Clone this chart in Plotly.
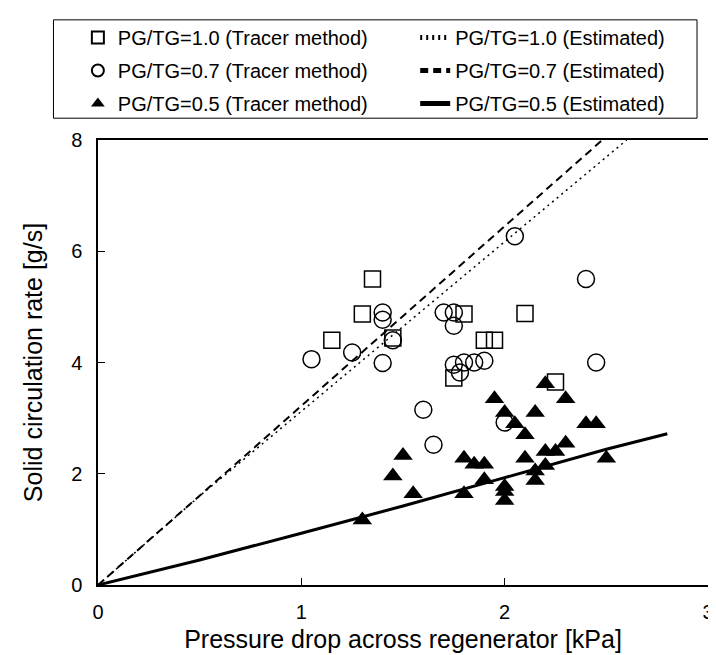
import plotly.graph_objects as go

# tracer method measurements, PG/TG = 1.0 (squares)
x_pg10 = [1.15, 1.30, 1.35, 1.45, 1.75, 1.80, 1.90, 1.95, 2.10, 2.25]
y_pg10 = [4.40, 4.87, 5.50, 4.44, 3.72, 4.87, 4.40, 4.40, 4.88, 3.65]

# PG/TG = 0.7 (circles)
x_pg07 = [1.05, 1.25, 1.40, 1.40, 1.45, 1.40, 1.60, 1.65, 1.70, 1.75,
          1.75, 1.75, 1.78, 1.80, 1.85, 1.90, 2.00, 2.05, 2.40, 2.45]
y_pg07 = [4.06, 4.18, 4.90, 4.77, 4.40, 3.99, 3.15, 2.52, 4.90, 4.90,
          4.66, 3.96, 3.82, 4.00, 4.00, 4.03, 2.92, 6.27, 5.50, 4.00]

# PG/TG = 0.5 (filled triangles)
x_pg05 = [1.30, 1.45, 1.50, 1.55, 1.80, 1.80, 1.85, 1.90, 1.90, 1.95,
          2.00, 2.00, 2.00, 2.00, 2.05, 2.10, 2.10, 2.15, 2.15, 2.15,
          2.20, 2.20, 2.20, 2.25, 2.30, 2.30, 2.40, 2.45, 2.50]
y_pg05 = [1.17, 1.96, 2.33, 1.64, 2.28, 1.64, 2.17, 2.17, 1.89, 3.35,
          3.10, 1.77, 1.68, 1.52, 2.90, 2.70, 2.28, 3.10, 2.05, 1.88,
          3.62, 2.40, 2.15, 2.40, 3.35, 2.55, 2.90, 2.90, 2.28]

# estimated curves
est_x10 = [0, 0.25, 0.5, 0.75, 1.0, 1.25, 1.5, 1.75, 2.0, 2.25, 2.6]
est_y10 = [0, 0.80, 1.60, 2.36, 3.12, 3.88, 4.64, 5.40, 6.16, 6.93, 8.0]
est_x07 = [0, 0.25, 0.5, 0.75, 1.0, 1.25, 1.5, 1.75, 2.0, 2.25, 2.48]
est_y07 = [0, 0.80, 1.60, 2.41, 3.22, 4.03, 4.84, 5.64, 6.45, 7.26, 8.0]
est_x05 = [0, 0.5, 1.0, 1.5, 2.0, 2.5, 2.8]
est_y05 = [0, 0.45, 0.93, 1.42, 1.93, 2.44, 2.72]

FONT = 'Liberation Sans, Arial, sans-serif'

fig = go.Figure()

fig.add_trace(go.Scatter(
    x=x_pg10, y=y_pg10, mode='markers', name='PG/TG=1.0 (Tracer method)',
    marker=dict(symbol='square-open', size=16, color='black', line=dict(width=1.5)),
    legend='legend', legendgroup='a'))
fig.add_trace(go.Scatter(
    x=x_pg07, y=y_pg07, mode='markers', name='PG/TG=0.7 (Tracer method)',
    marker=dict(symbol='circle-open', size=17, color='black', line=dict(width=1.5)),
    legend='legend', legendgroup='b'))
fig.add_trace(go.Scatter(
    x=x_pg05, y=y_pg05, mode='markers', name='PG/TG=0.5 (Tracer method)',
    marker=dict(symbol='triangle-up', size=17, color='black'),
    legend='legend', legendgroup='c'))

fig.add_trace(go.Scatter(
    x=est_x10, y=est_y10, mode='lines', name='PG/TG=1.0 (Estimated)',
    line=dict(color='black', width=1.5, dash='2px,4px'),
    legend='legend2', legendgroup='d'))
fig.add_trace(go.Scatter(
    x=est_x07, y=est_y07, mode='lines', name='PG/TG=0.7 (Estimated)',
    line=dict(color='black', width=2, dash='8px,5px'),
    legend='legend2', legendgroup='e'))
fig.add_trace(go.Scatter(
    x=est_x05, y=est_y05, mode='lines', name='PG/TG=0.5 (Estimated)',
    line=dict(color='black', width=3),
    legend='legend2', legendgroup='f'))

leg = dict(orientation='v', traceorder='grouped', tracegroupgap=4,
           bgcolor='rgba(0,0,0,0)', borderwidth=0, itemsizing='constant',
           font=dict(family=FONT, size=20, color='black'),
           xanchor='left', yanchor='top')

fig.update_layout(
    width=716, height=655,
    margin=dict(l=90, r=10, t=126, b=78),
    paper_bgcolor='white', plot_bgcolor='white',
    font=dict(family=FONT, color='black'),
    showlegend=True,
    legend=dict(leg, x=-0.033, y=1.274),
    legend2=dict(leg, x=0.52, y=1.274),
    shapes=[dict(type='rect', xref='paper', yref='paper',
                 x0=-0.073, x1=0.982, y0=1.049, y1=1.27,
                 line=dict(color='black', width=1))],
    xaxis=dict(range=[0, 3], dtick=1, showgrid=False, zeroline=False,
               showline=True, linecolor='black', linewidth=1.5, mirror=True,
               ticks='inside', ticklen=7, tickcolor='black', tickwidth=1,
               ticklabelstandoff=8,
               tickfont=dict(family=FONT, size=20),
               title=dict(text='Pressure drop across regenerator [kPa]',
                          font=dict(family=FONT, size=25), standoff=9)),
    yaxis=dict(range=[0, 8], dtick=2, showgrid=False, zeroline=False,
               showline=True, linecolor='black', linewidth=1.5, mirror=True,
               ticks='inside', ticklen=7, tickcolor='black', tickwidth=1,
               ticklabelstandoff=10,
               tickfont=dict(family=FONT, size=20),
               title=dict(text='Solid circulation rate [g/s]',
                          font=dict(family=FONT, size=25), standoff=21)),
)

fig.write_html('out.html')
